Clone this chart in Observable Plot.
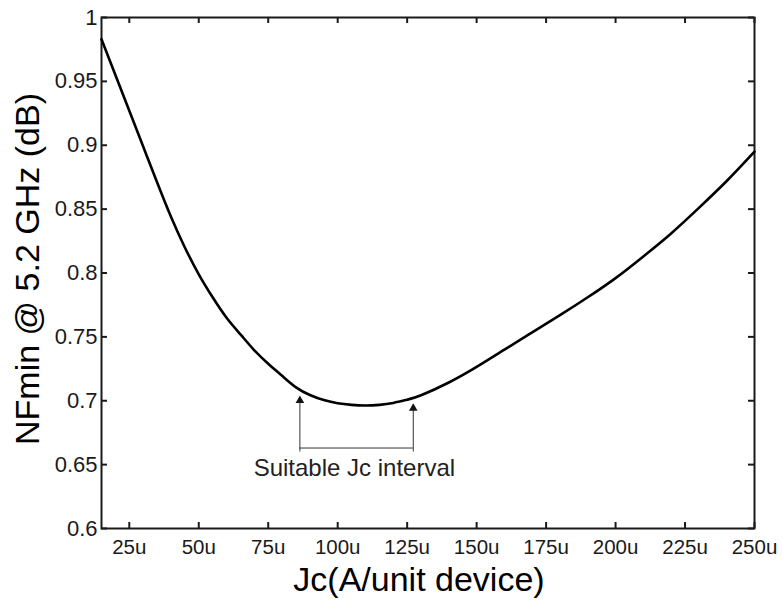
<!DOCTYPE html>
<html>
<head>
<meta charset="utf-8">
<script src="https://cdn.jsdelivr.net/npm/d3@7"></script>
<script src="https://cdn.jsdelivr.net/npm/@observablehq/plot@0.6"></script>
<style>
  body { margin: 0; background: #fff; }
  svg { display: block; }
</style>
</head>
<body>
<div id="chart"></div>
<script>
// Jc (u A / unit device)
const jc = [15, 20, 25, 30, 35, 40, 45, 50, 55, 60, 65, 70, 75, 80, 85, 90, 95, 100, 105, 110, 115, 120, 125, 130, 140, 150, 160, 170, 180, 190, 200, 210, 220, 230, 240, 250];
// NFmin @ 5.2 GHz (dB)
const nfmin = [0.983, 0.955, 0.927, 0.899, 0.871, 0.844, 0.820, 0.799, 0.781, 0.765, 0.752, 0.7395, 0.729, 0.7195, 0.7105, 0.7045, 0.7005, 0.698, 0.6968, 0.6963, 0.6968, 0.6983, 0.7008, 0.7043, 0.7143, 0.7265, 0.740, 0.7535, 0.767, 0.781, 0.796, 0.813, 0.831, 0.851, 0.872, 0.895];

const xTicks = [25, 50, 75, 100, 125, 150, 175, 200, 225, 250];
const yTicks = [0.6, 0.65, 0.7, 0.75, 0.8, 0.85, 0.9, 0.95, 1];

// annotation: suitable interval bracket
const intervalJc = [86.4, 127.2];
const intervalTip = [0.7025, 0.6965];
const intervalBase = [0.663];
const annotation = [{jc: 106, nf: 0.6475, text: "Suitable Jc interval"}];

const xLabel = "Jc(A/unit device)";
const yLabel = "NFmin @ 5.2 GHz (dB)";

const curve = jc.map((x, i) => ({x, y: nfmin[i]}));
const arrows = intervalJc.map((x, i) => ({x, tip: intervalTip[i], base: intervalBase[0]}));

const W = 783, H = 600;
const mL = 101, mR = 29, mT = 17, mB = 72;
const pw = W - mL - mR, ph = H - mT - mB;
const tickLen = 6;
const ink = "#1a1a1a";

const chart = Plot.plot({
  width: W,
  height: H,
  marginLeft: mL,
  marginRight: mR,
  marginTop: mT,
  marginBottom: mB,
  style: {fontFamily: "'Liberation Sans', Arial, sans-serif", background: "#fff", color: ink},
  x: {domain: [15, 250]},
  y: {domain: [0.6, 1]},
  marks: [
    Plot.axisX({ticks: xTicks, tickSize: 0, tickPadding: 11, fontSize: 20.5, tickFormat: d => d + "u", label: null}),
    Plot.axisY({ticks: yTicks, tickSize: 0, tickPadding: 4, fontSize: 22, tickFormat: d => String(+d.toFixed(2)), label: null}),
    // inward ticks on all four sides
    Plot.tickX(xTicks, {x: d => d, insetTop: ph - tickLen, stroke: ink, strokeWidth: 2}),
    Plot.tickX(xTicks, {x: d => d, insetBottom: ph - tickLen, stroke: ink, strokeWidth: 2}),
    Plot.tickY(yTicks, {y: d => d, insetRight: pw - tickLen, stroke: ink, strokeWidth: 2}),
    Plot.tickY(yTicks, {y: d => d, insetLeft: pw - tickLen, stroke: ink, strokeWidth: 2}),
    Plot.frame({stroke: ink, strokeWidth: 2}),
    Plot.line(curve, {x: "x", y: "y", curve: "natural", stroke: "#000", strokeWidth: 2.6}),
    // bracket
    Plot.ruleX(arrows, {x: "x", y1: "base", y2: "tip", stroke: "#333", strokeWidth: 1, insetTop: 4}),
    Plot.ruleY(intervalBase, {y: d => d, x1: intervalJc[0], x2: intervalJc[1], stroke: "#333", strokeWidth: 1}),
    Plot.dot(arrows, {x: "x", y: "tip", symbol: "triangle", r: 3.2, fill: "#111", stroke: "none", dy: 3}),
    Plot.text(annotation, {x: "jc", y: "nf", text: "text", fontSize: 24, fill: "#222"}),
    // axis titles
    Plot.text([xLabel], {frameAnchor: "bottom", textAnchor: "middle", dx: -9, dy: 62, fontSize: 34, fill: "#000"}),
    Plot.text([yLabel], {frameAnchor: "left", textAnchor: "middle", dx: -73, dy: -4, rotate: -90, fontSize: 34, fill: "#000"})
  ]
});
document.getElementById("chart").appendChild(chart);
</script>
</body>
</html>
